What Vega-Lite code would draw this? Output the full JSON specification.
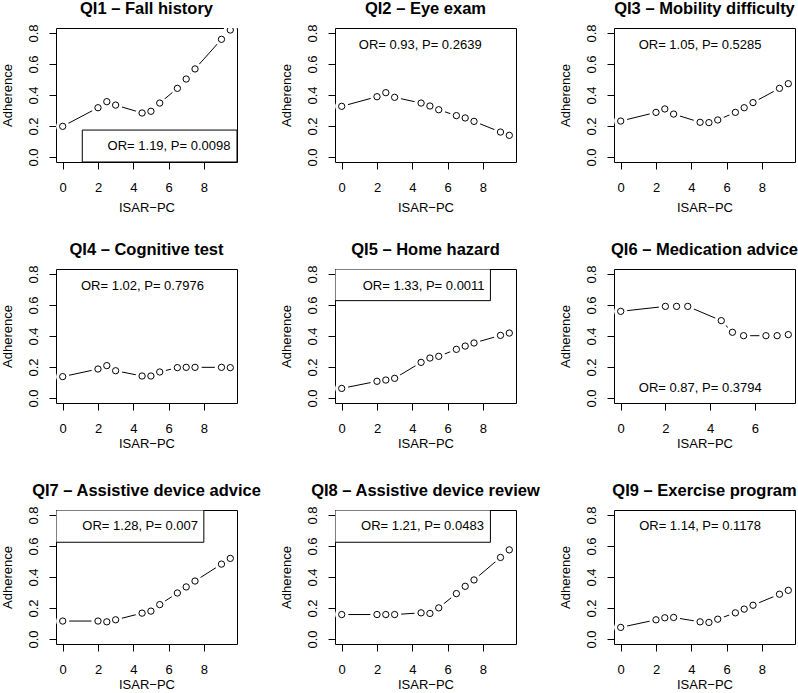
{
  "$schema": "https://vega.github.io/schema/vega-lite/v6.json",
  "background": "white",
  "padding": {"left": 1, "top": 0, "right": 0, "bottom": 0},
  "autosize": {"type": "pad"},
  "config": {
    "font": "Liberation Sans",
    "view": {"stroke": "black", "strokeWidth": 1, "fill": "white"},
    "title": {"font": "Liberation Sans", "fontSize": 16.5, "fontWeight": "bold", "color": "black", "offset": 6, "baseline": "alphabetic", "anchor": "middle"},
    "axis": {"domain": false, "grid": false, "tickColor": "black", "tickSize": 7, "tickWidth": 1, "tickCount": 10, "labelColor": "black", "labelFontSize": 13, "labelFont": "Liberation Sans", "titleColor": "black", "titleFontSize": 13, "titleFontWeight": "normal", "titleFont": "Liberation Sans", "labelFlush": false, "labelOverlap": false},
    "axisX": {"labelPadding": 12, "titlePadding": 2, "labelAngle": 0},
    "axisY": {"labelAngle": -90, "labelAlign": "center", "labelBaseline": "bottom", "labelPadding": 9, "titlePadding": 12.5}
  },
  "datasets": {
    "pts": [
      {"p":"QI1","x":0,"y":0.198},{"p":"QI1","x":2,"y":0.318},{"p":"QI1","x":2.5,"y":0.357},{"p":"QI1","x":3,"y":0.335},{"p":"QI1","x":4.5,"y":0.284},{"p":"QI1","x":5,"y":0.295},{"p":"QI1","x":5.5,"y":0.348},{"p":"QI1","x":6.5,"y":0.443},{"p":"QI1","x":7,"y":0.503},{"p":"QI1","x":7.5,"y":0.568},{"p":"QI1","x":9,"y":0.759},{"p":"QI1","x":9.5,"y":0.819},
      {"p":"QI2","x":0,"y":0.327},{"p":"QI2","x":2,"y":0.389},{"p":"QI2","x":2.5,"y":0.415},{"p":"QI2","x":3,"y":0.385},{"p":"QI2","x":4.5,"y":0.348},{"p":"QI2","x":5,"y":0.329},{"p":"QI2","x":5.5,"y":0.305},{"p":"QI2","x":6.5,"y":0.267},{"p":"QI2","x":7,"y":0.252},{"p":"QI2","x":7.5,"y":0.230},{"p":"QI2","x":9,"y":0.161},{"p":"QI2","x":9.5,"y":0.140},
      {"p":"QI3","x":0,"y":0.232},{"p":"QI3","x":2,"y":0.288},{"p":"QI3","x":2.5,"y":0.310},{"p":"QI3","x":3,"y":0.277},{"p":"QI3","x":4.5,"y":0.224},{"p":"QI3","x":5,"y":0.222},{"p":"QI3","x":5.5,"y":0.239},{"p":"QI3","x":6.5,"y":0.288},{"p":"QI3","x":7,"y":0.318},{"p":"QI3","x":7.5,"y":0.351},{"p":"QI3","x":9,"y":0.443},{"p":"QI3","x":9.5,"y":0.473},
      {"p":"QI4","x":0,"y":0.138},{"p":"QI4","x":2,"y":0.187},{"p":"QI4","x":2.5,"y":0.209},{"p":"QI4","x":3,"y":0.176},{"p":"QI4","x":4.5,"y":0.142},{"p":"QI4","x":5,"y":0.142},{"p":"QI4","x":5.5,"y":0.168},{"p":"QI4","x":6.5,"y":0.196},{"p":"QI4","x":7,"y":0.198},{"p":"QI4","x":7.5,"y":0.198},{"p":"QI4","x":9,"y":0.198},{"p":"QI4","x":9.5,"y":0.196},
      {"p":"QI5","x":0,"y":0.062},{"p":"QI5","x":2,"y":0.108},{"p":"QI5","x":2.5,"y":0.116},{"p":"QI5","x":3,"y":0.127},{"p":"QI5","x":4.5,"y":0.230},{"p":"QI5","x":5,"y":0.258},{"p":"QI5","x":5.5,"y":0.269},{"p":"QI5","x":6.5,"y":0.314},{"p":"QI5","x":7,"y":0.335},{"p":"QI5","x":7.5,"y":0.355},{"p":"QI5","x":9,"y":0.404},{"p":"QI5","x":9.5,"y":0.419},
      {"p":"QI6","x":0,"y":0.559},{"p":"QI6","x":2,"y":0.591},{"p":"QI6","x":2.5,"y":0.591},{"p":"QI6","x":3,"y":0.591},{"p":"QI6","x":4.5,"y":0.499},{"p":"QI6","x":5,"y":0.424},{"p":"QI6","x":5.5,"y":0.402},{"p":"QI6","x":6.5,"y":0.402},{"p":"QI6","x":7,"y":0.402},{"p":"QI6","x":7.5,"y":0.409},
      {"p":"QI7","x":0,"y":0.116},{"p":"QI7","x":2,"y":0.116},{"p":"QI7","x":2.5,"y":0.111},{"p":"QI7","x":3,"y":0.124},{"p":"QI7","x":4.5,"y":0.167},{"p":"QI7","x":5,"y":0.180},{"p":"QI7","x":5.5,"y":0.222},{"p":"QI7","x":6.5,"y":0.297},{"p":"QI7","x":7,"y":0.336},{"p":"QI7","x":7.5,"y":0.374},{"p":"QI7","x":9,"y":0.483},{"p":"QI7","x":9.5,"y":0.520},
      {"p":"QI8","x":0,"y":0.158},{"p":"QI8","x":2,"y":0.158},{"p":"QI8","x":2.5,"y":0.158},{"p":"QI8","x":3,"y":0.158},{"p":"QI8","x":4.5,"y":0.169},{"p":"QI8","x":5,"y":0.165},{"p":"QI8","x":5.5,"y":0.201},{"p":"QI8","x":6.5,"y":0.293},{"p":"QI8","x":7,"y":0.340},{"p":"QI8","x":7.5,"y":0.381},{"p":"QI8","x":9,"y":0.526},{"p":"QI8","x":9.5,"y":0.575},
      {"p":"QI9","x":0,"y":0.075},{"p":"QI9","x":2,"y":0.124},{"p":"QI9","x":2.5,"y":0.137},{"p":"QI9","x":3,"y":0.139},{"p":"QI9","x":4.5,"y":0.111},{"p":"QI9","x":5,"y":0.107},{"p":"QI9","x":5.5,"y":0.128},{"p":"QI9","x":6.5,"y":0.169},{"p":"QI9","x":7,"y":0.193},{"p":"QI9","x":7.5,"y":0.218},{"p":"QI9","x":9,"y":0.289},{"p":"QI9","x":9.5,"y":0.314}
    ],
    "ann": [
      {"p":"QI1","label":"OR= 1.19, P= 0.0098","tx":9.51,"ty":0.069},
      {"p":"QI2","label":"OR= 0.93, P= 0.2639","tx":4.45,"ty":0.72},
      {"p":"QI3","label":"OR= 1.05, P= 0.5285","tx":4.5,"ty":0.72},
      {"p":"QI4","label":"OR= 1.02, P= 0.7976","tx":4.52,"ty":0.725},
      {"p":"QI5","label":"OR= 1.33, P= 0.0011","tx":8.1,"ty":0.725},
      {"p":"QI6","label":"OR= 0.87, P= 0.3794","tx":3.56,"ty":0.065},
      {"p":"QI7","label":"OR= 1.28, P= 0.007","tx":7.67,"ty":0.727},
      {"p":"QI8","label":"OR= 1.21, P= 0.0483","tx":8.06,"ty":0.727},
      {"p":"QI9","label":"OR= 1.14, P= 0.1178","tx":4.5,"ty":0.727}
    ],
    "boxes": [
      {"p":"QI1","x1":1.11,"x2":9.88,"y1":-0.032,"y2":0.174},
      {"p":"QI5","x1":-0.38,"x2":8.43,"y1":0.628,"y2":0.832},
      {"p":"QI7","x1":-0.38,"x2":8.0,"y1":0.624,"y2":0.832},
      {"p":"QI8","x1":-0.38,"x2":8.43,"y1":0.624,"y2":0.832}
    ]
  },
  "columns": 3,
  "spacing": {"row": 107, "column": 98},
  "bounds": "flush",
  "concat": [
      {"title": "QI1 – Fall history", "width": 181, "height": 134, "layer": [
        {"data":{"name":"pts"},"transform":[{"filter":"datum.p==='QI1'"}],"mark":{"type":"line","color":"black","strokeWidth":1,"clip":true},"encoding":{"x":{"field":"x","type":"quantitative","scale":{"domain":[-0.38,9.88],"nice":false,"zero":false},"axis":{"values":[0,2,4,6,8],"title":"ISAR−PC","tickCount":10,"titlePadding":7}},"y":{"field":"y","type":"quantitative","scale":{"domain":[-0.032,0.832],"nice":false,"zero":false},"axis":{"values":[0,0.2,0.4,0.6,0.8],"format":".1f","title":"Adherence","tickCount":10}}}},
        {"data":{"name":"pts"},"transform":[{"filter":"datum.p==='QI1'"}],"mark":{"type":"circle","fill":"white","opacity":1,"size":175,"clip":true},"encoding":{"x":{"field":"x","type":"quantitative"},"y":{"field":"y","type":"quantitative"}}},
        {"data":{"name":"pts"},"transform":[{"filter":"datum.p==='QI1'"}],"mark":{"type":"point","shape":"circle","filled":true,"fill":"white","stroke":"black","strokeWidth":1,"opacity":1,"size":40,"clip":true},"encoding":{"x":{"field":"x","type":"quantitative"},"y":{"field":"y","type":"quantitative"}}},
        {"data":{"name":"boxes"},"transform":[{"filter":"datum.p==='QI1'"}],"mark":{"type":"rect","fill":"white","stroke":"black","strokeWidth":1,"clip":true},"encoding":{"x":{"field":"x1","type":"quantitative"},"x2":{"field":"x2"},"y":{"field":"y1","type":"quantitative"},"y2":{"field":"y2"}}},
        {"data":{"name":"ann"},"transform":[{"filter":"datum.p==='QI1'"}],"mark":{"type":"text","align":"right","baseline":"middle","fontSize":13,"color":"black"},"encoding":{"x":{"field":"tx","type":"quantitative"},"y":{"field":"ty","type":"quantitative"},"text":{"field":"label"}}}
      ]},
      {"title": "QI2 – Eye exam", "width": 181, "height": 134, "layer": [
        {"data":{"name":"pts"},"transform":[{"filter":"datum.p==='QI2'"}],"mark":{"type":"line","color":"black","strokeWidth":1,"clip":true},"encoding":{"x":{"field":"x","type":"quantitative","scale":{"domain":[-0.38,9.88],"nice":false,"zero":false},"axis":{"values":[0,2,4,6,8],"title":"ISAR−PC","tickCount":10,"titlePadding":7}},"y":{"field":"y","type":"quantitative","scale":{"domain":[-0.032,0.832],"nice":false,"zero":false},"axis":{"values":[0,0.2,0.4,0.6,0.8],"format":".1f","title":"Adherence","tickCount":10}}}},
        {"data":{"name":"pts"},"transform":[{"filter":"datum.p==='QI2'"}],"mark":{"type":"circle","fill":"white","opacity":1,"size":175,"clip":true},"encoding":{"x":{"field":"x","type":"quantitative"},"y":{"field":"y","type":"quantitative"}}},
        {"data":{"name":"pts"},"transform":[{"filter":"datum.p==='QI2'"}],"mark":{"type":"point","shape":"circle","filled":true,"fill":"white","stroke":"black","strokeWidth":1,"opacity":1,"size":40,"clip":true},"encoding":{"x":{"field":"x","type":"quantitative"},"y":{"field":"y","type":"quantitative"}}},
        {"data":{"name":"ann"},"transform":[{"filter":"datum.p==='QI2'"}],"mark":{"type":"text","align":"center","baseline":"middle","fontSize":13,"color":"black"},"encoding":{"x":{"field":"tx","type":"quantitative"},"y":{"field":"ty","type":"quantitative"},"text":{"field":"label"}}}
      ]},
      {"title": "QI3 – Mobility difficulty", "width": 181, "height": 134, "layer": [
        {"data":{"name":"pts"},"transform":[{"filter":"datum.p==='QI3'"}],"mark":{"type":"line","color":"black","strokeWidth":1,"clip":true},"encoding":{"x":{"field":"x","type":"quantitative","scale":{"domain":[-0.38,9.88],"nice":false,"zero":false},"axis":{"values":[0,2,4,6,8],"title":"ISAR−PC","tickCount":10,"titlePadding":7}},"y":{"field":"y","type":"quantitative","scale":{"domain":[-0.032,0.832],"nice":false,"zero":false},"axis":{"values":[0,0.2,0.4,0.6,0.8],"format":".1f","title":"Adherence","tickCount":10}}}},
        {"data":{"name":"pts"},"transform":[{"filter":"datum.p==='QI3'"}],"mark":{"type":"circle","fill":"white","opacity":1,"size":175,"clip":true},"encoding":{"x":{"field":"x","type":"quantitative"},"y":{"field":"y","type":"quantitative"}}},
        {"data":{"name":"pts"},"transform":[{"filter":"datum.p==='QI3'"}],"mark":{"type":"point","shape":"circle","filled":true,"fill":"white","stroke":"black","strokeWidth":1,"opacity":1,"size":40,"clip":true},"encoding":{"x":{"field":"x","type":"quantitative"},"y":{"field":"y","type":"quantitative"}}},
        {"data":{"name":"ann"},"transform":[{"filter":"datum.p==='QI3'"}],"mark":{"type":"text","align":"center","baseline":"middle","fontSize":13,"color":"black"},"encoding":{"x":{"field":"tx","type":"quantitative"},"y":{"field":"ty","type":"quantitative"},"text":{"field":"label"}}}
      ]},
      {"title": "QI4 – Cognitive test", "width": 181, "height": 134, "layer": [
        {"data":{"name":"pts"},"transform":[{"filter":"datum.p==='QI4'"}],"mark":{"type":"line","color":"black","strokeWidth":1,"clip":true},"encoding":{"x":{"field":"x","type":"quantitative","scale":{"domain":[-0.38,9.88],"nice":false,"zero":false},"axis":{"values":[0,2,4,6,8],"title":"ISAR−PC","tickCount":10}},"y":{"field":"y","type":"quantitative","scale":{"domain":[-0.032,0.832],"nice":false,"zero":false},"axis":{"values":[0,0.2,0.4,0.6,0.8],"format":".1f","title":"Adherence","tickCount":10}}}},
        {"data":{"name":"pts"},"transform":[{"filter":"datum.p==='QI4'"}],"mark":{"type":"circle","fill":"white","opacity":1,"size":175,"clip":true},"encoding":{"x":{"field":"x","type":"quantitative"},"y":{"field":"y","type":"quantitative"}}},
        {"data":{"name":"pts"},"transform":[{"filter":"datum.p==='QI4'"}],"mark":{"type":"point","shape":"circle","filled":true,"fill":"white","stroke":"black","strokeWidth":1,"opacity":1,"size":40,"clip":true},"encoding":{"x":{"field":"x","type":"quantitative"},"y":{"field":"y","type":"quantitative"}}},
        {"data":{"name":"ann"},"transform":[{"filter":"datum.p==='QI4'"}],"mark":{"type":"text","align":"center","baseline":"middle","fontSize":13,"color":"black"},"encoding":{"x":{"field":"tx","type":"quantitative"},"y":{"field":"ty","type":"quantitative"},"text":{"field":"label"}}}
      ]},
      {"title": "QI5 – Home hazard", "width": 181, "height": 134, "layer": [
        {"data":{"name":"pts"},"transform":[{"filter":"datum.p==='QI5'"}],"mark":{"type":"line","color":"black","strokeWidth":1,"clip":true},"encoding":{"x":{"field":"x","type":"quantitative","scale":{"domain":[-0.38,9.88],"nice":false,"zero":false},"axis":{"values":[0,2,4,6,8],"title":"ISAR−PC","tickCount":10}},"y":{"field":"y","type":"quantitative","scale":{"domain":[-0.032,0.832],"nice":false,"zero":false},"axis":{"values":[0,0.2,0.4,0.6,0.8],"format":".1f","title":"Adherence","tickCount":10}}}},
        {"data":{"name":"pts"},"transform":[{"filter":"datum.p==='QI5'"}],"mark":{"type":"circle","fill":"white","opacity":1,"size":175,"clip":true},"encoding":{"x":{"field":"x","type":"quantitative"},"y":{"field":"y","type":"quantitative"}}},
        {"data":{"name":"pts"},"transform":[{"filter":"datum.p==='QI5'"}],"mark":{"type":"point","shape":"circle","filled":true,"fill":"white","stroke":"black","strokeWidth":1,"opacity":1,"size":40,"clip":true},"encoding":{"x":{"field":"x","type":"quantitative"},"y":{"field":"y","type":"quantitative"}}},
        {"data":{"name":"boxes"},"transform":[{"filter":"datum.p==='QI5'"}],"mark":{"type":"rect","fill":"white","stroke":"black","strokeWidth":1,"clip":true},"encoding":{"x":{"field":"x1","type":"quantitative"},"x2":{"field":"x2"},"y":{"field":"y1","type":"quantitative"},"y2":{"field":"y2"}}},
        {"data":{"name":"ann"},"transform":[{"filter":"datum.p==='QI5'"}],"mark":{"type":"text","align":"right","baseline":"middle","fontSize":13,"color":"black"},"encoding":{"x":{"field":"tx","type":"quantitative"},"y":{"field":"ty","type":"quantitative"},"text":{"field":"label"}}}
      ]},
      {"title": "QI6 – Medication advice", "width": 181, "height": 134, "layer": [
        {"data":{"name":"pts"},"transform":[{"filter":"datum.p==='QI6'"}],"mark":{"type":"line","color":"black","strokeWidth":1,"clip":true},"encoding":{"x":{"field":"x","type":"quantitative","scale":{"domain":[-0.3,7.8],"nice":false,"zero":false},"axis":{"values":[0,2,4,6],"title":"ISAR−PC","tickCount":10}},"y":{"field":"y","type":"quantitative","scale":{"domain":[-0.032,0.832],"nice":false,"zero":false},"axis":{"values":[0,0.2,0.4,0.6,0.8],"format":".1f","title":"Adherence","tickCount":10}}}},
        {"data":{"name":"pts"},"transform":[{"filter":"datum.p==='QI6'"}],"mark":{"type":"circle","fill":"white","opacity":1,"size":175,"clip":true},"encoding":{"x":{"field":"x","type":"quantitative"},"y":{"field":"y","type":"quantitative"}}},
        {"data":{"name":"pts"},"transform":[{"filter":"datum.p==='QI6'"}],"mark":{"type":"point","shape":"circle","filled":true,"fill":"white","stroke":"black","strokeWidth":1,"opacity":1,"size":40,"clip":true},"encoding":{"x":{"field":"x","type":"quantitative"},"y":{"field":"y","type":"quantitative"}}},
        {"data":{"name":"ann"},"transform":[{"filter":"datum.p==='QI6'"}],"mark":{"type":"text","align":"center","baseline":"middle","fontSize":13,"color":"black"},"encoding":{"x":{"field":"tx","type":"quantitative"},"y":{"field":"ty","type":"quantitative"},"text":{"field":"label"}}}
      ]},
      {"title": "QI7 – Assistive device advice", "width": 181, "height": 134, "layer": [
        {"data":{"name":"pts"},"transform":[{"filter":"datum.p==='QI7'"}],"mark":{"type":"line","color":"black","strokeWidth":1,"clip":true},"encoding":{"x":{"field":"x","type":"quantitative","scale":{"domain":[-0.38,9.88],"nice":false,"zero":false},"axis":{"values":[0,2,4,6,8],"title":"ISAR−PC","tickCount":10}},"y":{"field":"y","type":"quantitative","scale":{"domain":[-0.032,0.832],"nice":false,"zero":false},"axis":{"values":[0,0.2,0.4,0.6,0.8],"format":".1f","title":"Adherence","tickCount":10}}}},
        {"data":{"name":"pts"},"transform":[{"filter":"datum.p==='QI7'"}],"mark":{"type":"circle","fill":"white","opacity":1,"size":175,"clip":true},"encoding":{"x":{"field":"x","type":"quantitative"},"y":{"field":"y","type":"quantitative"}}},
        {"data":{"name":"pts"},"transform":[{"filter":"datum.p==='QI7'"}],"mark":{"type":"point","shape":"circle","filled":true,"fill":"white","stroke":"black","strokeWidth":1,"opacity":1,"size":40,"clip":true},"encoding":{"x":{"field":"x","type":"quantitative"},"y":{"field":"y","type":"quantitative"}}},
        {"data":{"name":"boxes"},"transform":[{"filter":"datum.p==='QI7'"}],"mark":{"type":"rect","fill":"white","stroke":"black","strokeWidth":1,"clip":true},"encoding":{"x":{"field":"x1","type":"quantitative"},"x2":{"field":"x2"},"y":{"field":"y1","type":"quantitative"},"y2":{"field":"y2"}}},
        {"data":{"name":"ann"},"transform":[{"filter":"datum.p==='QI7'"}],"mark":{"type":"text","align":"right","baseline":"middle","fontSize":13,"color":"black"},"encoding":{"x":{"field":"tx","type":"quantitative"},"y":{"field":"ty","type":"quantitative"},"text":{"field":"label"}}}
      ]},
      {"title": "QI8 – Assistive device review", "width": 181, "height": 134, "layer": [
        {"data":{"name":"pts"},"transform":[{"filter":"datum.p==='QI8'"}],"mark":{"type":"line","color":"black","strokeWidth":1,"clip":true},"encoding":{"x":{"field":"x","type":"quantitative","scale":{"domain":[-0.38,9.88],"nice":false,"zero":false},"axis":{"values":[0,2,4,6,8],"title":"ISAR−PC","tickCount":10}},"y":{"field":"y","type":"quantitative","scale":{"domain":[-0.032,0.832],"nice":false,"zero":false},"axis":{"values":[0,0.2,0.4,0.6,0.8],"format":".1f","title":"Adherence","tickCount":10}}}},
        {"data":{"name":"pts"},"transform":[{"filter":"datum.p==='QI8'"}],"mark":{"type":"circle","fill":"white","opacity":1,"size":175,"clip":true},"encoding":{"x":{"field":"x","type":"quantitative"},"y":{"field":"y","type":"quantitative"}}},
        {"data":{"name":"pts"},"transform":[{"filter":"datum.p==='QI8'"}],"mark":{"type":"point","shape":"circle","filled":true,"fill":"white","stroke":"black","strokeWidth":1,"opacity":1,"size":40,"clip":true},"encoding":{"x":{"field":"x","type":"quantitative"},"y":{"field":"y","type":"quantitative"}}},
        {"data":{"name":"boxes"},"transform":[{"filter":"datum.p==='QI8'"}],"mark":{"type":"rect","fill":"white","stroke":"black","strokeWidth":1,"clip":true},"encoding":{"x":{"field":"x1","type":"quantitative"},"x2":{"field":"x2"},"y":{"field":"y1","type":"quantitative"},"y2":{"field":"y2"}}},
        {"data":{"name":"ann"},"transform":[{"filter":"datum.p==='QI8'"}],"mark":{"type":"text","align":"right","baseline":"middle","fontSize":13,"color":"black"},"encoding":{"x":{"field":"tx","type":"quantitative"},"y":{"field":"ty","type":"quantitative"},"text":{"field":"label"}}}
      ]},
      {"title": "QI9 – Exercise program", "width": 181, "height": 134, "layer": [
        {"data":{"name":"pts"},"transform":[{"filter":"datum.p==='QI9'"}],"mark":{"type":"line","color":"black","strokeWidth":1,"clip":true},"encoding":{"x":{"field":"x","type":"quantitative","scale":{"domain":[-0.38,9.88],"nice":false,"zero":false},"axis":{"values":[0,2,4,6,8],"title":"ISAR−PC","tickCount":10}},"y":{"field":"y","type":"quantitative","scale":{"domain":[-0.032,0.832],"nice":false,"zero":false},"axis":{"values":[0,0.2,0.4,0.6,0.8],"format":".1f","title":"Adherence","tickCount":10}}}},
        {"data":{"name":"pts"},"transform":[{"filter":"datum.p==='QI9'"}],"mark":{"type":"circle","fill":"white","opacity":1,"size":175,"clip":true},"encoding":{"x":{"field":"x","type":"quantitative"},"y":{"field":"y","type":"quantitative"}}},
        {"data":{"name":"pts"},"transform":[{"filter":"datum.p==='QI9'"}],"mark":{"type":"point","shape":"circle","filled":true,"fill":"white","stroke":"black","strokeWidth":1,"opacity":1,"size":40,"clip":true},"encoding":{"x":{"field":"x","type":"quantitative"},"y":{"field":"y","type":"quantitative"}}},
        {"data":{"name":"ann"},"transform":[{"filter":"datum.p==='QI9'"}],"mark":{"type":"text","align":"center","baseline":"middle","fontSize":13,"color":"black"},"encoding":{"x":{"field":"tx","type":"quantitative"},"y":{"field":"ty","type":"quantitative"},"text":{"field":"label"}}}
      ]}
  ]
}
